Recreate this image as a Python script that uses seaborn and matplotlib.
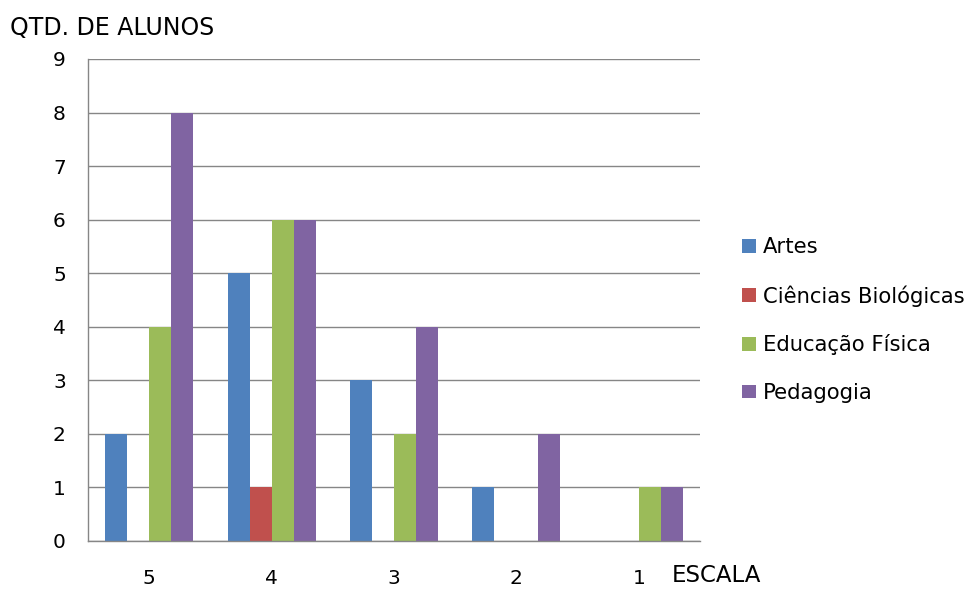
import matplotlib
matplotlib.use("Agg")
import matplotlib.pyplot as plt
from matplotlib.patches import Patch
from matplotlib.ticker import FixedLocator
import seaborn as sns
import pandas as pd

escala = ["5", "4", "3", "2", "1"]
cursos = ["Artes", "Ciências Biológicas", "Educação Física", "Pedagogia"]
artes = [2, 5, 3, 1, 0]
ciencias_bio = [0, 1, 0, 0, 0]
educacao_fisica = [4, 6, 2, 0, 1]
pedagogia = [8, 6, 4, 2, 1]
cores = ["#4F81BD", "#C0504D", "#9BBB59", "#8064A2"]

rows = []
for curso, vals in zip(cursos, [artes, ciencias_bio, educacao_fisica, pedagogia]):
    for e, v in zip(escala, vals):
        rows.append({"Escala": e, "Curso": curso, "Qtd": v})
df = pd.DataFrame(rows)

sns.set_theme(style="white")
plt.rcParams["font.family"] = ["DejaVu Sans"]
plt.rcParams["text.color"] = "#000000"
plt.rcParams["xtick.labelcolor"] = "#000000"
plt.rcParams["ytick.labelcolor"] = "#000000"

fig = plt.figure(figsize=(9.67, 5.89), dpi=100)
ax = fig.add_axes([88/967, 48/589, 612/967, 482/589])

sns.barplot(data=df, x="Escala", y="Qtd", hue="Curso", order=escala, hue_order=cursos,
            palette=cores, saturation=1, width=0.72, ax=ax, legend=False, linewidth=0)

ax.set_xlim(-0.5, 4.5)
ax.set_ylim(0, 9)
ax.set_yticks(range(10))
ax.yaxis.grid(True, color="#868686", linewidth=1)
ax.set_axisbelow(True)
for s in ["top", "right"]:
    ax.spines[s].set_visible(False)
for s in ["left", "bottom"]:
    ax.spines[s].set_color("#868686")
    ax.spines[s].set_linewidth(1)

ax.xaxis.set_minor_locator(FixedLocator([-0.5, 0.5, 1.5, 2.5, 3.5, 4.5]))
ax.tick_params(axis="x", which="major", length=0, pad=20, labelsize=14.5, labelcolor="#000000")
ax.tick_params(axis="x", which="minor", length=8, width=1, color="#868686", direction="out")
ax.tick_params(axis="y", length=7, width=1, color="#868686", direction="out", labelsize=14.5,
               pad=9, labelcolor="#000000")
ax.set_xlabel("")
ax.set_ylabel("")

fig.text(10/967, 1 - 28/589, "QTD. DE ALUNOS", fontsize=17, va="center", ha="left")
fig.text(672/967, 1 - 576/589, "ESCALA", fontsize=16.5, va="center", ha="left")

handles = [Patch(facecolor=c, edgecolor="none") for c in cores]
leg = fig.legend(handles, cursos, loc="upper left", bbox_to_anchor=(734/967, 1 - 229/589),
                 frameon=False, fontsize=15.2, handlelength=0.62, handleheight=0.62,
                 handletextpad=0.35, labelspacing=1.31, borderaxespad=0)

fig.savefig("out.png", dpi=100)
